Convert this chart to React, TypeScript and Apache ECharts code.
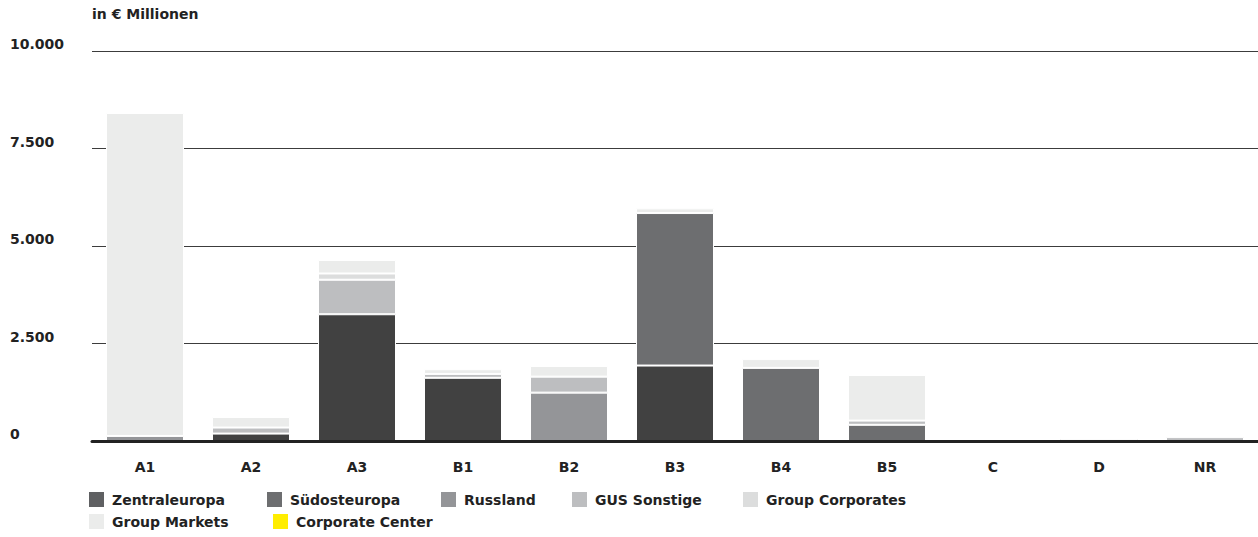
import React, { useEffect, useRef } from "react";
import * as echarts from "echarts";

// Segment values per business segment, in € million
const categories = ["A1", "A2", "A3", "B1", "B2", "B3", "B4", "B5", "C", "D", "NR"];
const zentraleuropa = [0, 190, 3250, 1620, 0, 1935, 0, 0, 0, 50, 0];
const suedosteuropa = [0, 0, 0, 0, 0, 3910, 1875, 415, 0, 0, 0];
const russland = [130, 0, 0, 0, 1240, 0, 0, 0, 0, 0, 0];
const gusSonstige = [0, 155, 885, 100, 410, 0, 0, 108, 0, 0, 100];
const groupCorporates = [0, 0, 160, 0, 0, 0, 0, 0, 0, 0, 0];
const groupMarkets = [8280, 270, 345, 120, 275, 120, 225, 1170, 0, 0, 0];
const corporateCenter = [0, 0, 0, 0, 0, 0, 0, 0, 0, 0, 0];

const yTicks = [0, 2500, 5000, 7500, 10000];

const seriesDefs = [
  { name: "Zentraleuropa", data: zentraleuropa, color: "#414141", swatch: "#5f6062", lx: 89, ly: 492 },
  { name: "Südosteuropa", data: suedosteuropa, color: "#6d6e70", swatch: "#6d6e70", lx: 267, ly: 492 },
  { name: "Russland", data: russland, color: "#949598", swatch: "#949598", lx: 441, ly: 492 },
  { name: "GUS Sonstige", data: gusSonstige, color: "#bdbec0", swatch: "#bdbec0", lx: 572, ly: 492 },
  { name: "Group Corporates", data: groupCorporates, color: "#dcdddd", swatch: "#dcdddd", lx: 743, ly: 492 },
  { name: "Group Markets", data: groupMarkets, color: "#ebeceb", swatch: "#ebeceb", lx: 89, ly: 514 },
  { name: "Corporate Center", data: corporateCenter, color: "#ffed00", swatch: "#ffed00", lx: 273, ly: 514 },
];

const FONT = "'DejaVu Sans', sans-serif";
const TEXT = "#222222";

function formatDe(v: number): string {
  return String(v).replace(/\B(?=(\d{3})+(?!\d))/g, ".");
}

export default function App() {
  const ref = useRef<HTMLDivElement>(null);

  useEffect(() => {
    if (!ref.current) return;
    const chart = echarts.init(ref.current, undefined, { renderer: "svg" });

    chart.setOption({
      animation: false,
      backgroundColor: "#ffffff",
      title: {
        text: "in € Millionen",
        left: 92,
        top: 7,
        padding: 0,
        textStyle: { fontFamily: FONT, fontSize: 14, fontWeight: "bold", color: TEXT },
      },
      legend: seriesDefs.map((s) => ({
        data: [{ name: s.name, itemStyle: { color: s.swatch, borderWidth: 0 } }],
        left: s.lx,
        top: s.ly,
        padding: 0,
        icon: "rect",
        itemWidth: 15,
        itemHeight: 15,
        selectedMode: false,
        textStyle: {
          fontFamily: FONT,
          fontSize: 14,
          fontWeight: "bold",
          color: TEXT,
          padding: [0, 0, 0, 3],
        },
      })),
      grid: { left: 92, right: 0, top: 51, bottom: 96, containLabel: false },
      xAxis: {
        type: "category",
        data: categories,
        z: 10,
        axisLine: { show: true, lineStyle: { color: "#222222", width: 3 } },
        axisTick: { show: false },
        axisLabel: {
          margin: 19,
          fontFamily: FONT,
          fontSize: 14,
          fontWeight: "bold",
          color: TEXT,
        },
      },
      yAxis: {
        type: "value",
        min: 0,
        max: 10000,
        interval: 2500,
        axisLine: { show: false },
        axisTick: { show: false },
        splitLine: { show: true, lineStyle: { color: "#3c3c3c", width: 1 } },
        axisLabel: {
          align: "left",
          verticalAlign: "bottom",
          margin: 82,
          fontFamily: FONT,
          fontSize: 14,
          fontWeight: "bold",
          color: TEXT,
          formatter: (v: number) => (yTicks.includes(v) ? formatDe(v) : ""),
        },
      },
      series: seriesDefs.map((s) => ({
        name: s.name,
        type: "bar",
        stack: "total",
        barWidth: 78,
        itemStyle: { color: s.color, borderColor: "#ffffff", borderWidth: 1 },
        data: s.data.map((v) => (v === 0 ? null : v)),
      })),
    });

    return () => chart.dispose();
  }, []);

  return (
    <div
      ref={ref}
      style={{ position: "fixed", left: 0, top: 0, width: 1258, height: 537, background: "#fff" }}
    />
  );
}
